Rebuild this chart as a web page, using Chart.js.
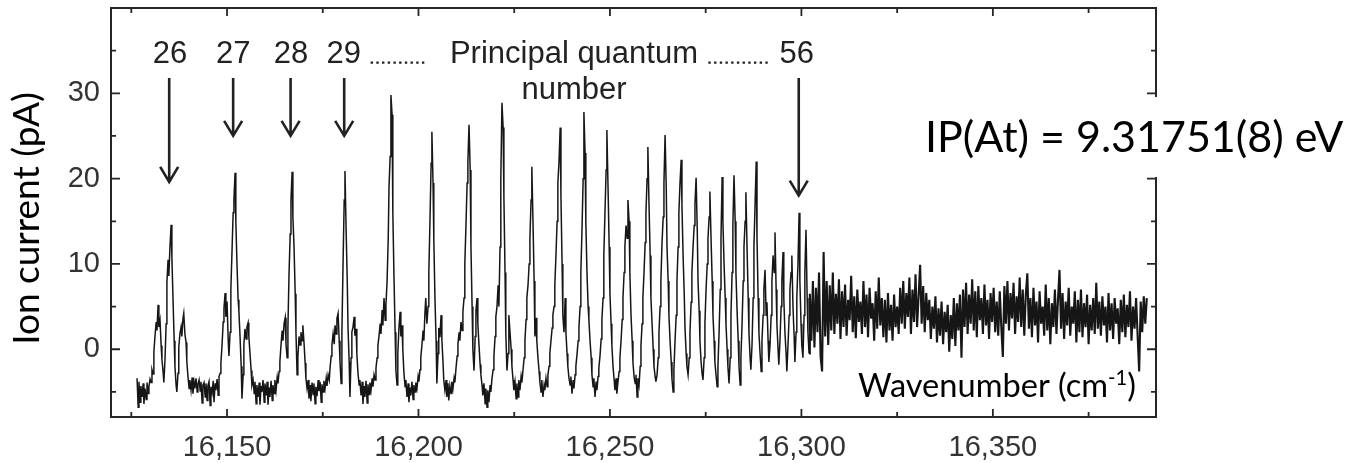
<!DOCTYPE html>
<html><head><meta charset="utf-8">
<script src="https://cdn.jsdelivr.net/npm/chart.js@4.4.1/dist/chart.umd.min.js"></script>
<style>html,body{margin:0;padding:0;background:#fff;overflow:hidden}</style>
</head><body>
<canvas id="c" width="1356" height="463"></canvas>
<script>
// ---------------- DATA ----------------
const wavenumber = [
16126.5,16126.8,16127.0,16127.3,16127.5,16127.8,16128.1,16128.3,16128.6,16128.9,
16129.1,16129.4,16129.6,16129.9,16130.2,16130.4,16130.7,16130.9,16131.2,16131.5,
16131.7,16132.0,16132.2,16132.5,16132.8,16133.0,16133.3,16133.5,16133.8,16134.1,
16134.3,16134.6,16134.8,16135.1,16135.4,16135.6,16135.9,16136.2,16136.4,16136.7,
16136.9,16137.2,16137.4,16137.7,16138.0,16138.2,16138.5,16138.7,16139.0,16139.3,
16139.5,16139.8,16140.1,16140.3,16140.6,16140.9,16141.1,16141.4,16141.6,16141.9,
16142.2,16142.4,16142.7,16143.0,16143.2,16143.5,16143.7,16144.0,16144.3,16144.5,
16144.8,16145.0,16145.3,16145.6,16145.8,16146.1,16146.4,16146.6,16146.9,16147.1,
16147.4,16147.7,16147.9,16148.2,16148.4,16148.7,16149.0,16149.2,16149.5,16149.7,
16150.0,16150.3,16150.5,16150.8,16151.0,16151.3,16151.6,16151.8,16152.1,16152.3,
16152.6,16152.9,16153.1,16153.4,16153.7,16153.9,16154.2,16154.4,16154.7,16155.0,
16155.2,16155.5,16155.7,16156.0,16156.3,16156.5,16156.8,16157.1,16157.3,16157.6,
16157.8,16158.1,16158.4,16158.6,16158.9,16159.1,16159.4,16159.7,16159.9,16160.2,
16160.5,16160.7,16161.0,16161.2,16161.5,16161.8,16162.0,16162.3,16162.5,16162.8,
16163.1,16163.3,16163.6,16163.8,16164.1,16164.4,16164.6,16164.9,16165.2,16165.4,
16165.7,16165.9,16166.2,16166.5,16166.7,16167.0,16167.2,16167.5,16167.8,16168.0,
16168.3,16168.5,16168.8,16169.1,16169.3,16169.6,16169.8,16170.1,16170.4,16170.6,
16170.9,16171.2,16171.4,16171.7,16171.9,16172.2,16172.5,16172.7,16173.0,16173.2,
16173.5,16173.8,16174.0,16174.3,16174.6,16174.8,16175.1,16175.3,16175.6,16175.9,
16176.1,16176.4,16176.7,16176.9,16177.2,16177.4,16177.7,16178.0,16178.2,16178.5,
16178.7,16179.0,16179.3,16179.5,16179.8,16180.0,16180.3,16180.6,16180.8,16181.1,
16181.4,16181.6,16181.9,16182.1,16182.4,16182.6,16182.9,16183.2,16183.4,16183.7,
16183.9,16184.2,16184.5,16184.7,16185.0,16185.3,16185.5,16185.8,16186.0,16186.3,
16186.6,16186.8,16187.1,16187.3,16187.6,16187.9,16188.1,16188.4,16188.7,16188.9,
16189.2,16189.4,16189.7,16190.0,16190.2,16190.5,16190.7,16191.0,16191.3,16191.5,
16191.8,16192.1,16192.3,16192.6,16192.8,16193.1,16193.3,16193.6,16193.9,16194.1,
16194.4,16194.6,16194.9,16195.2,16195.4,16195.7,16195.9,16196.2,16196.5,16196.7,
16197.0,16197.3,16197.5,16197.8,16198.0,16198.3,16198.6,16198.8,16199.1,16199.3,
16199.6,16199.9,16200.1,16200.4,16200.6,16200.9,16201.2,16201.4,16201.7,16201.9,
16202.2,16202.5,16202.7,16203.0,16203.3,16203.5,16203.8,16204.0,16204.3,16204.6,
16204.8,16205.1,16205.3,16205.6,16205.9,16206.1,16206.4,16206.6,16206.9,16207.2,
16207.4,16207.7,16207.9,16208.2,16208.5,16208.7,16209.0,16209.3,16209.5,16209.8,
16210.1,16210.3,16210.6,16210.8,16211.1,16211.4,16211.6,16211.9,16212.1,16212.4,
16212.7,16212.9,16213.2,16213.5,16213.7,16214.0,16214.2,16214.5,16214.8,16215.0,
16215.3,16215.5,16215.8,16216.1,16216.3,16216.6,16216.8,16217.1,16217.4,16217.6,
16217.9,16218.1,16218.4,16218.7,16218.9,16219.2,16219.5,16219.7,16220.0,16220.2,
16220.5,16220.8,16221.0,16221.3,16221.5,16221.8,16222.1,16222.3,16222.6,16222.8,
16223.1,16223.4,16223.6,16223.9,16224.2,16224.4,16224.7,16224.9,16225.2,16225.5,
16225.7,16226.0,16226.2,16226.5,16226.8,16227.0,16227.3,16227.6,16227.8,16228.1,
16228.3,16228.6,16228.9,16229.1,16229.4,16229.6,16229.9,16230.2,16230.4,16230.7,
16230.9,16231.2,16231.5,16231.7,16232.0,16232.2,16232.5,16232.8,16233.0,16233.3,
16233.6,16233.8,16234.1,16234.3,16234.6,16234.9,16235.1,16235.4,16235.6,16235.9,
16236.2,16236.4,16236.7,16237.0,16237.2,16237.5,16237.7,16238.0,16238.3,16238.5,
16238.8,16239.0,16239.3,16239.6,16239.8,16240.1,16240.4,16240.6,16240.9,16241.1,
16241.4,16241.7,16241.9,16242.2,16242.4,16242.7,16243.0,16243.2,16243.5,16243.7,
16244.0,16244.3,16244.5,16244.8,16245.1,16245.3,16245.6,16245.8,16246.1,16246.4,
16246.6,16246.9,16247.1,16247.4,16247.7,16247.9,16248.2,16248.4,16248.7,16249.0,
16249.2,16249.5,16249.8,16250.0,16250.3,16250.5,16250.8,16251.1,16251.3,16251.6,
16251.8,16252.1,16252.4,16252.6,16252.9,16253.2,16253.4,16253.7,16253.9,16254.2,
16254.5,16254.7,16255.0,16255.2,16255.5,16255.8,16256.0,16256.3,16256.6,16256.8,
16257.1,16257.3,16257.6,16257.9,16258.1,16258.4,16258.6,16258.9,16259.2,16259.4,
16259.7,16259.9,16260.2,16260.5,16260.7,16261.0,16261.3,16261.5,16261.8,16262.0,
16262.3,16262.6,16262.8,16263.1,16263.3,16263.6,16263.9,16264.1,16264.4,16264.7,
16264.9,16265.2,16265.4,16265.7,16266.0,16266.2,16266.5,16266.7,16267.0,16267.3,
16267.5,16267.8,16268.0,16268.3,16268.6,16268.8,16269.1,16269.4,16269.6,16269.9,
16270.1,16270.4,16270.7,16270.9,16271.2,16271.4,16271.7,16272.0,16272.2,16272.5,
16272.8,16273.0,16273.3,16273.5,16273.8,16274.1,16274.3,16274.6,16274.8,16275.1,
16275.4,16275.6,16275.9,16276.1,16276.4,16276.7,16276.9,16277.2,16277.4,16277.7,
16278.0,16278.2,16278.5,16278.8,16279.0,16279.3,16279.5,16279.8,16280.1,16280.3,
16280.6,16280.8,16281.1,16281.4,16281.6,16281.9,16282.1,16282.4,16282.7,16282.9,
16283.2,16283.5,16283.7,16284.0,16284.2,16284.5,16284.8,16285.0,16285.3,16285.5,
16285.8,16286.1,16286.3,16286.6,16286.8,16287.1,16287.4,16287.6,16287.9,16288.2,
16288.4,16288.7,16288.9,16289.2,16289.5,16289.7,16290.0,16290.2,16290.5,16290.8,
16291.0,16291.3,16291.5,16291.8,16292.1,16292.3,16292.6,16292.9,16293.1,16293.4,
16293.6,16293.9,16294.1,16294.4,16294.7,16294.9,16295.2,16295.4,16295.7,16296.0,
16296.2,16296.5,16296.8,16297.0,16297.3,16297.5,16297.8,16298.1,16298.3,16298.6,
16298.8,16299.1,16299.4,16299.6,16299.9,16300.1,16300.4,16300.7,16300.9,16301.2,
16301.5,16301.7,16302.0,
16302.2,16302.6,16303.0,16303.4,16303.8,16304.2,16304.6,16305.0,16305.4,16305.8,
16306.2,16306.6,16307.0,16307.4,16307.8,16308.2,16308.6,16309.0,16309.4,16309.8,
16310.2,16310.6,16311.0,16311.4,16311.8,16312.2,16312.6,16313.0,16313.4,16313.8,
16314.2,16314.6,16315.0,16315.4,16315.8,16316.2,16316.6,16317.0,16317.4,16317.8,
16318.2,16318.6,16319.0,16319.4,16319.8,16320.2,16320.6,16321.0,16321.4,16321.8,
16322.2,16322.6,16323.0,16323.4,16323.8,16324.2,16324.6,16325.0,16325.4,16325.8,
16326.2,16326.6,16327.0,16327.4,16327.8,16328.2,16328.6,16329.0,16329.4,16329.8,
16330.2,16330.6,16331.0,16331.4,16331.8,16332.2,16332.6,16333.0,16333.4,16333.8,
16334.2,16334.6,16335.0,16335.4,16335.8,16336.2,16336.6,16337.0,16337.4,16337.8,
16338.2,16338.6,16339.0,16339.4,16339.8,16340.2,16340.6,16341.0,16341.4,16341.8,
16342.2,16342.6,16343.0,16343.4,16343.8,16344.2,16344.6,16345.0,16345.4,16345.8,
16346.2,16346.6,16347.0,16347.4,16347.8,16348.2,16348.6,16349.0,16349.4,16349.8,
16350.2,16350.6,16351.0,16351.4,16351.8,16352.2,16352.6,16353.0,16353.4,16353.8,
16354.2,16354.6,16355.0,16355.4,16355.8,16356.2,16356.6,16357.0,16357.4,16357.8,
16358.2,16358.6,16359.0,16359.4,16359.8,16360.2,16360.6,16361.0,16361.4,16361.8,
16362.2,16362.6,16363.0,16363.4,16363.8,16364.2,16364.6,16365.0,16365.4,16365.8,
16366.2,16366.6,16367.0,16367.4,16367.8,16368.2,16368.6,16369.0,16369.4,16369.8,
16370.2,16370.6,16371.0,16371.4,16371.8,16372.2,16372.6,16373.0,16373.4,16373.8,
16374.2,16374.6,16375.0,16375.4,16375.8,16376.2,16376.6,16377.0,16377.4,16377.8,
16378.2,16378.6,16379.0,16379.4,16379.8,16380.2,16380.6,16381.0,16381.4,16381.8,
16382.2,16382.6,16383.0,16383.4,16383.8,16384.2,16384.6,16385.0,16385.4,16385.8,
16386.2,16386.6,16387.0,16387.4,16387.8,16388.2,16388.6,16389.0,16389.4,16389.8,
16390.2
];
const ionCurrent = [
-3.4,-6.8,-3.8,-6.2,-4.3,-5.6,-4.0,-6.4,-4.6,-5.9,
-3.9,-5.2,-4.4,-3.5,-3.9,-2.4,-2.9,-0.3,1.6,3.2,
2.2,5.2,2.6,3.4,0.4,-1.2,-2.6,-3.9,-1.2,3.0,
7.8,10.5,8.6,12.0,14.6,10.8,5.8,1.0,-2.0,-4.2,
-5.0,-2.8,0.2,1.8,2.6,1.5,3.6,4.2,1.8,0.8,
-1.4,-3.2,-4.6,-3.6,-4.8,-3.3,-5.2,-3.9,-4.6,-3.4,
-5.0,-4.1,-3.6,-4.9,-3.8,-6.3,-4.2,-3.9,-5.6,-4.0,
-6.0,-4.3,-3.8,-6.6,-4.4,-5.1,-3.7,-6.2,-4.0,-4.8,
-3.5,-5.4,-3.2,-2.8,-1.6,0.5,3.2,4.8,6.6,3.8,
5.6,1.2,-0.8,2.0,7.0,11.5,16.0,17.5,20.7,15.0,
10.0,5.8,4.5,1.5,-2.0,-5.8,-3.0,0.5,2.4,1.2,
2.6,3.1,1.5,-0.5,-2.5,-4.2,-3.6,-5.2,-3.8,-6.4,
-4.2,-5.6,-3.9,-6.5,-4.3,-5.0,-3.6,-6.2,-4.0,-5.4,
-3.8,-6.5,-4.5,-5.6,-3.7,-6.0,-4.2,-5.2,-3.6,-4.8,
-3.3,-4.0,-2.6,-1.5,0.5,2.2,1.0,3.0,3.7,0.6,
-1.0,2.5,9.0,13.5,17.5,20.8,15.5,12.0,6.5,2.0,
-3.0,-1.0,1.5,0.5,2.0,1.0,2.8,0.8,-1.6,-3.4,
-4.6,-3.6,-5.8,-4.2,-6.1,-3.9,-5.3,-4.0,-6.4,-4.4,
-5.5,-3.6,-4.9,-3.8,-6.2,-4.1,-5.0,-3.7,-4.6,-3.4,
-4.3,-3.0,-3.6,-2.2,-0.8,0.5,1.8,0.6,2.8,1.8,
3.6,4.2,1.0,-1.5,-4.0,2.0,10.0,17.5,20.9,14.0,
8.0,2.5,-1.5,-5.6,-1.0,2.0,2.6,3.8,1.6,2.4,
-0.5,-2.8,-4.2,-3.6,-5.4,-3.8,-6.4,-4.3,-5.6,-3.7,
-6.3,-4.1,-5.3,-3.9,-4.8,-3.4,-4.4,-3.0,-3.6,-2.2,
-1.0,0.4,1.6,3.0,1.8,4.6,2.8,6.0,3.4,5.2,
8.0,13.0,19.0,22.6,29.8,27.5,16.0,8.5,2.0,-2.5,
-4.2,-0.5,2.5,4.4,1.5,2.8,0.0,-2.8,-4.4,-3.6,
-5.6,-4.0,-6.2,-4.5,-5.4,-3.8,-5.9,-4.2,-5.0,-3.9,
-4.6,-3.2,-3.8,-2.4,-1.0,0.5,2.2,1.0,4.4,6.0,
3.0,5.0,9.0,15.0,21.8,25.5,19.5,13.0,6.0,1.0,
-4.0,-0.5,2.5,1.4,4.0,1.2,-1.5,-3.6,-4.8,-3.6,
-5.6,-4.0,-6.0,-4.3,-5.2,-3.8,-4.6,-3.4,-3.9,-2.2,
-0.8,0.6,2.0,1.0,3.2,2.2,4.4,6.0,10.0,14.5,
19.5,22.0,26.3,21.0,12.0,5.0,0.0,-2.5,1.5,4.5,
6.0,3.0,0.5,-1.8,-3.0,-4.2,-5.4,-4.0,-6.4,-4.6,
-6.8,-4.8,-6.2,-4.2,-5.0,-3.4,-2.4,-0.8,1.5,3.8,
5.0,7.5,5.0,12.0,20.0,28.9,26.0,18.0,9.0,2.0,
-2.5,-0.5,4.0,2.0,0.0,-2.0,-3.6,-4.8,-3.8,-5.8,
-4.0,-5.6,-3.6,-4.8,-3.2,-3.9,-2.4,-1.0,1.0,3.5,
6.0,7.5,10.0,13.0,17.5,21.4,15.0,8.0,1.5,3.7,
1.0,-1.0,-2.6,-3.8,-5.0,-3.6,-5.6,-4.2,-4.8,-3.4,
-4.4,-3.0,-2.0,-0.5,1.0,2.5,4.0,5.0,7.5,11.0,
15.0,19.5,22.0,26.0,18.0,10.0,4.0,2.0,6.0,2.0,
-0.5,-2.0,-3.4,-4.2,-3.2,-5.2,-3.6,-4.6,-3.0,-2.0,
-0.6,1.0,2.5,5.0,9.0,14.0,20.0,27.8,23.0,15.0,
9.0,5.0,3.5,1.0,-1.0,-3.0,-4.4,-3.4,-5.6,-3.8,
-4.8,-3.2,-2.2,-0.8,1.2,3.5,6.0,11.0,16.0,21.0,
25.7,19.0,12.0,6.5,3.0,0.5,-2.0,-3.6,-4.8,-3.4,
-5.2,-3.8,-2.6,-1.0,1.0,3.5,6.0,9.0,12.0,14.5,
13.0,17.5,15.0,9.0,4.0,1.0,-1.5,-3.2,-4.0,-3.0,
-5.6,-3.4,-4.2,-2.0,0.5,3.0,6.0,9.0,12.5,16.0,
20.0,23.7,17.0,11.0,6.0,3.0,0.0,-2.0,-3.2,-3.8,
-3.0,-1.0,2.0,5.0,8.0,12.5,15.5,19.5,25.1,19.0,
12.0,8.0,4.0,1.0,-1.5,-3.5,-5.0,-2.5,1.0,4.0,
8.0,12.0,16.0,19.5,22.2,17.0,11.0,6.5,2.5,-0.5,
-2.0,-3.0,-1.0,2.0,5.5,9.0,12.0,14.5,17.0,20.1,
14.0,8.0,4.5,1.0,-1.5,-3.0,-3.6,-1.0,3.0,7.0,
10.0,13.0,15.5,18.5,13.0,8.0,4.0,1.0,-1.5,-3.0,
-4.4,-2.0,2.0,7.0,13.0,20.2,15.0,10.0,6.0,3.0,
0.0,-2.0,-4.0,-1.0,4.0,9.0,14.5,20.4,15.0,9.0,
4.5,1.0,-2.0,-4.2,-1.0,3.0,8.0,12.0,15.0,18.4,
12.0,6.0,2.0,-1.0,-2.4,0.5,6.0,12.0,17.0,22.0,
13.0,6.0,2.0,-0.5,-2.6,1.0,4.0,7.0,9.3,4.0,
5.5,1.0,-1.5,0.5,4.0,8.0,11.0,9.0,13.7,7.0,
3.0,0.0,-1.8,1.0,5.0,8.0,11.4,6.0,2.0,-0.5,
-2.6,0.5,4.0,7.0,9.0,11.0,5.0,1.5,-1.5,2.0,
6.0,10.0,16.0,8.0,3.0,0.5,-1.0,4.0,9.0,14.0,
6.0,2.0,-0.5,
6.5,1.0,8.0,0.2,7.2,2.0,9.0,-0.8,-2.6,11.4,
1.5,8.0,0.5,7.5,2.2,9.0,1.8,6.5,3.0,8.2,
1.2,6.8,2.6,7.6,1.6,5.8,3.4,8.6,2.0,6.2,
1.3,7.0,3.2,5.6,1.8,8.0,2.6,6.4,1.4,7.2,
3.6,5.4,1.0,6.8,2.4,8.4,2.8,6.0,1.4,5.8,
0.8,6.6,2.2,5.2,1.0,6.4,2.6,5.0,1.8,7.2,
3.0,8.0,2.4,6.6,3.8,8.4,1.8,7.0,3.2,8.8,
2.6,6.2,9.9,3.0,7.4,2.0,6.6,3.4,5.8,1.2,
5.0,2.4,6.2,0.8,4.8,1.6,5.6,0.6,4.4,2.0,
5.2,-0.3,4.0,1.2,6.0,0.4,5.4,2.2,6.4,-1.0,
7.0,2.6,7.8,1.8,6.4,3.0,8.2,2.2,6.8,1.4,
7.4,3.4,6.0,1.8,7.6,2.8,5.8,1.2,6.6,3.2,
7.2,2.0,5.6,1.6,6.8,2.6,-0.9,7.4,3.0,8.0,
2.2,6.6,3.6,7.8,1.8,6.2,3.2,8.4,2.6,7.0,
1.6,6.4,8.9,2.4,6.0,1.4,7.2,2.8,5.6,0.8,
6.8,3.0,5.0,1.6,7.6,2.2,6.0,0.6,5.4,2.6,
7.0,1.8,5.8,9.3,2.4,6.6,1.2,5.6,2.8,7.2,
1.6,5.0,3.0,6.8,0.8,5.8,2.0,7.0,1.4,5.4,
2.6,6.4,0.6,5.2,2.2,6.0,1.8,7.8,2.4,5.6,
1.6,6.2,2.8,5.0,0.8,6.6,2.2,5.4,1.2,6.0,
3.0,4.8,0.6,5.8,2.0,6.4,1.4,5.2,2.6,6.8,
1.0,5.0,2.4,6.0,1.6,-2.6,5.6,2.0,6.2,3.0,
6.0
];

// axis ticks
const xMajorTicks = [16150, 16200, 16250, 16300, 16350];
const xMinorTicks = [16125, 16175, 16225, 16275, 16325, 16375];
const yMajorTicks = [0, 10, 20, 30];
const yMinorTicks = [-5, 5, 15, 25, 35];

// annotations (principal quantum numbers)
const quantumLabels   = ['26', '27', '28', '29', '56'];
const quantumLabelWn  = [16135.1, 16151.6, 16166.7, 16180.5, 16298.8];
const arrowWn         = [16134.9, 16151.6, 16166.6, 16180.6, 16299.3];
const arrowTipPA      = [19.5, 24.9, 24.9, 24.9, 17.9];
const arrowTopPA      = 31.8;
const labelBaselinePA = 33.55;
const dottedFromWn    = [16187.5, 16275.7];
const dottedToWn      = [16202.0, 16291.2];
const dottedPA        = 33.6;
const middleText      = ['Principal quantum', 'number'];
const middleTextWn    = 16240.6;
const middleTextPA    = [33.55, 29.3];
const ionizationEdgeWn = 16302.0;   // continuum starts here (denser noise band)

const yTitle = 'Ion current (pA)';
const xTitle = ['Wavenumber (cm', '-1', ')'];
const ipText = 'IP(At) = 9.31751(8) eV';

if (wavenumber.length !== ionCurrent.length) {
  throw new Error('length mismatch ' + wavenumber.length + ' vs ' + ionCurrent.length);
}

// ---------------- CHART ----------------
const HELV = '"Liberation Sans", Arial, Helvetica, sans-serif';
const CALI = 'Lato, "Open Sans", sans-serif';
const INK = '#222';

function fitSize(ctx, text, family, targetW) {
  ctx.font = '100px ' + family;
  return 100 * targetW / ctx.measureText(text).width;
}

const decor = {
  id: 'decor',
  afterDraw(chart) {
    const ctx = chart.ctx, xs = chart.scales.x, ys = chart.scales.y, a = chart.chartArea;
    const X = v => xs.getPixelForValue(v), Y = v => ys.getPixelForValue(v);
    ctx.save();
    // frame
    ctx.strokeStyle = '#262626';
    ctx.lineWidth = 2;
    ctx.strokeRect(a.left, a.top, a.right - a.left, a.bottom - a.top);
    // inward ticks
    ctx.lineWidth = 1.8;
    ctx.beginPath();
    const xt = (v, len) => { const p = X(v); ctx.moveTo(p, a.bottom); ctx.lineTo(p, a.bottom - len); ctx.moveTo(p, a.top); ctx.lineTo(p, a.top + len); };
    const yt = (v, len) => { const p = Y(v); ctx.moveTo(a.left, p); ctx.lineTo(a.left + len, p); ctx.moveTo(a.right, p); ctx.lineTo(a.right - len, p); };
    xMajorTicks.forEach(v => xt(v, 8));
    xMinorTicks.forEach(v => xt(v, 5));
    yMajorTicks.forEach(v => yt(v, 9));
    yMinorTicks.forEach(v => yt(v, 5));
    ctx.stroke();

    // number labels
    ctx.fillStyle = INK;
    ctx.font = '31px ' + HELV;
    ctx.textAlign = 'center';
    ctx.textBaseline = 'alphabetic';
    quantumLabels.forEach((t, i) => ctx.fillText(t, X(quantumLabelWn[i]), Y(labelBaselinePA)));
    middleText.forEach((t, i) => ctx.fillText(t, X(middleTextWn), Y(middleTextPA[i])));

    // dotted leaders
    ctx.strokeStyle = INK;
    ctx.lineWidth = 2.4;
    ctx.setLineDash([2.4, 3.3]);
    ctx.beginPath();
    dottedFromWn.forEach((w, i) => { ctx.moveTo(X(w), Y(dottedPA)); ctx.lineTo(X(dottedToWn[i]), Y(dottedPA)); });
    ctx.stroke();
    ctx.setLineDash([]);

    // arrows
    ctx.lineWidth = 2.6;
    ctx.lineJoin = 'miter';
    ctx.lineCap = 'butt';
    arrowWn.forEach((w, i) => {
      const x = X(w), y0 = Y(arrowTopPA), y1 = Y(arrowTipPA[i]);
      ctx.beginPath();
      ctx.moveTo(x, y0); ctx.lineTo(x, y1 - 1);
      ctx.moveTo(x - 9, y1 - 16); ctx.lineTo(x, y1 - 1); ctx.lineTo(x + 9, y1 - 16);
      ctx.stroke();
    });

    // y title (rotated)
    ctx.save();
    const ys2 = fitSize(ctx, yTitle, CALI, 253);
    ctx.font = ys2.toFixed(1) + 'px ' + CALI;
    ctx.fillStyle = '#000';
    ctx.translate(27, 218.5);
    ctx.rotate(-Math.PI / 2);
    ctx.textAlign = 'center';
    ctx.textBaseline = 'middle';
    ctx.fillText(yTitle, 0, 0);
    ctx.restore();

    // x title inside plot, bottom-right
    ctx.font = '100px ' + CALI;
    const w1 = ctx.measureText(xTitle[0]).width, w3 = ctx.measureText(xTitle[2]).width;
    ctx.font = '62px ' + CALI;
    const w2 = ctx.measureText(xTitle[1]).width;
    const s = 100 * 278 / (w1 + w2 + w3);
    const k = s / 100;
    let xx = 1136 - 278;
    const base = 397;
    ctx.fillStyle = '#000';
    ctx.textAlign = 'left';
    ctx.textBaseline = 'alphabetic';
    ctx.font = s.toFixed(1) + 'px ' + CALI;
    ctx.fillText(xTitle[0], xx, base); xx += w1 * k;
    ctx.font = (s * 0.62).toFixed(1) + 'px ' + CALI;
    ctx.fillText(xTitle[1], xx, base - s * 0.36); xx += w2 * k;
    ctx.font = s.toFixed(1) + 'px ' + CALI;
    ctx.fillText(xTitle[2], xx, base);

    // IP value with white box
    const ipS = fitSize(ctx, ipText, CALI, 418);
    ctx.fillStyle = '#fff';
    ctx.fillRect(915, 97, 441, 80);
    ctx.font = ipS.toFixed(1) + 'px ' + CALI;
    ctx.fillStyle = '#000';
    ctx.textAlign = 'left';
    ctx.fillText(ipText, 925, 152);
    ctx.restore();
  }
};

new Chart(document.getElementById('c'), {
  type: 'line',
  data: {
    datasets: [{
      data: wavenumber.map((w, i) => ({ x: w, y: ionCurrent[i] })),
      borderColor: '#161616',
      borderWidth: 1.5,
      segment: {
        borderWidth: c => (c.p0.parsed.x >= ionizationEdgeWn ? 2.1 : 1.5)
      },
      pointRadius: 0,
      tension: 0,
      fill: false
    }]
  },
  options: {
    responsive: false,
    animation: false,
    devicePixelRatio: 1,
    layout: { padding: { left: 0, right: 200, top: 8, bottom: 0 } },
    plugins: { legend: { display: false }, tooltip: { enabled: false } },
    scales: {
      x: {
        type: 'linear', min: 16119.7, max: 16392.6,
        grid: { display: false, drawTicks: false }, border: { display: false },
        afterBuildTicks: s => { s.ticks = xMajorTicks.map(v => ({ value: v })); },
        afterFit: s => { s.height = 46; s.paddingLeft = 0; s.paddingRight = 0; },
        ticks: { autoSkip: false, maxRotation: 0, padding: 14, color: '#333',
                 font: { family: HELV, size: 29 },
                 callback: v => Number(v).toLocaleString('en-US') }
      },
      y: {
        type: 'linear', min: -7.94, max: 40,
        grid: { display: false, drawTicks: false }, border: { display: false },
        afterBuildTicks: s => { s.ticks = yMajorTicks.map(v => ({ value: v })); },
        afterFit: s => { s.width = 111; s.paddingTop = 0; s.paddingBottom = 0; },
        ticks: { autoSkip: false, padding: 11, color: '#333',
                 font: { family: HELV, size: 29 },
                 callback: v => String(v) }
      }
    }
  },
  plugins: [decor]
});
</script>
</body></html>
